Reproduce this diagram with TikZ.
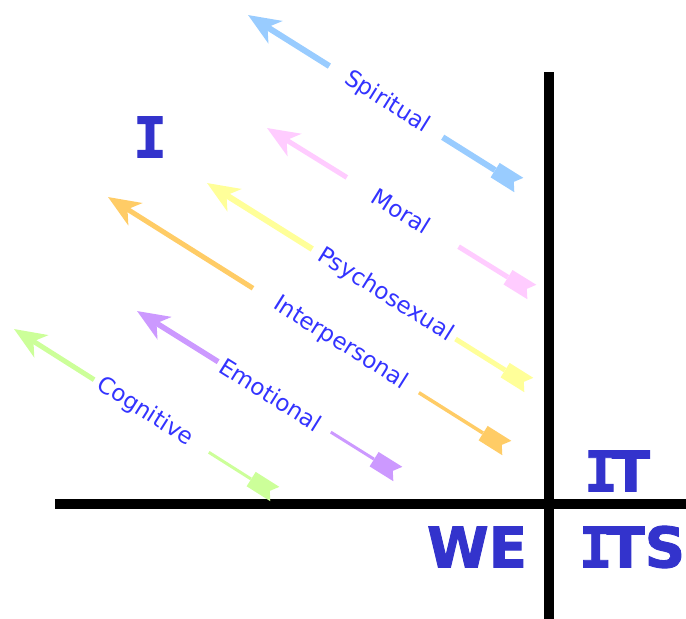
\documentclass[tikz,border=0pt]{standalone}
\usepackage{fontspec}
\setmainfont{DejaVu Sans}
\newfontfamily\quadfont{DejaVu Sans Bold}[FakeBold=1.6]
\newfontfamily\quadmono{DejaVu Sans Mono Bold}[FakeBold=1.6]
\usepackage{tikz}
\usetikzlibrary{arrows.meta,shapes.symbols}

\definecolor{spiritblue}{HTML}{99CCFF}
\definecolor{moralpink}{HTML}{FFCCFF}
\definecolor{psyyellow}{HTML}{FFFF99}
\definecolor{interorange}{HTML}{FFCC66}
\definecolor{emopurple}{HTML}{CC99FF}
\definecolor{cogngreen}{HTML}{CCFF99}
\definecolor{lineblue}{HTML}{3333FF}
\definecolor{quadblue}{HTML}{3333CC}

% serifed capital I, as in the quadrant names
\newcommand\serifI{{\quadmono I}}

\begin{document}
\begin{tikzpicture}[x=1pt, y=-1pt,
  lbl/.style={sloped, inner sep=0pt, text=lineblue, font=\fontsize{23}{27}\selectfont},
  quad/.style={inner sep=0pt, text=quadblue, font=\fontsize{56}{60}\quadfont},
  axis/.style={line width=10pt, black},
  tip/.style={-{Stealth[length=32pt, width=26pt, inset=9pt]}},
  fletch/.style={signal, signal to=nowhere, signal from=east, signal pointer angle=110,
    fill=#1, sloped, anchor=east, minimum width=28pt, minimum height=17pt, inner sep=0pt},
]
\useasboundingbox (0,0) rectangle (686,619);

% === Quadrant axes ===
\coordinate (vtop) at (549,72);
\coordinate (vbot) at (549,619);
\coordinate (hleft) at (55,504);
\coordinate (hright) at (686,504);
\draw[axis] (vtop) -- (vbot);
\draw[axis] (hleft) -- (hright);

% === Quadrant labels ===
\node[quad] (qI) at (150,137) {\serifI};
\node[quad] (qIT) at (617,471) {\serifI\kern-6pt T};
\node[quad] (qWE) at (477,547) {WE};
\node[quad] (qITS) at (632,547) {\serifI\kern-6pt TS};

% === Spiritual ===
\coordinate (hdS) at (248,15);
\coordinate (tlS) at (514,182);
\path (hdS) -- coordinate[pos=0.306] (aS) node[lbl, pos=0.522] (lS) {Spiritual}
  coordinate[pos=0.732] (bS) node[fletch=spiritblue, pos=1] (fS) {} (tlS);
\draw[tip, line width=6pt, spiritblue] (aS) -- (hdS);
\draw[line width=6pt, spiritblue] (bS) -- (fS);

% === Moral ===
\coordinate (hdM) at (267,128);
\coordinate (tlM) at (527,289);
\path (hdM) -- coordinate[pos=0.307] (aM) node[lbl, pos=0.517] (lM) {Moral}
  coordinate[pos=0.737] (bM) node[fletch=moralpink, pos=1] (fM) {} (tlM);
\draw[tip, line width=5pt, moralpink] (aM) -- (hdM);
\draw[line width=5pt, moralpink] (bM) -- (fM);

% === Psychosexual ===
\coordinate (hdP) at (207,183);
\coordinate (tlP) at (524,382);
\path (hdP) -- coordinate[pos=0.332] (aP) node[lbl, pos=0.563] (lP) {Psychosexual}
  coordinate[pos=0.784] (bP) node[fletch=psyyellow, pos=1] (fP) {} (tlP);
\draw[tip, line width=6pt, psyyellow] (aP) -- (hdP);
\draw[line width=5pt, psyyellow] (bP) -- (fP);

% === Interpersonal ===
\coordinate (hdN) at (108,197);
\coordinate (tlN) at (502,445);
\path (hdN) -- coordinate[pos=0.368] (aN) node[lbl, pos=0.590] (lN) {Interpersonal}
  coordinate[pos=0.789] (bN) node[fletch=interorange, pos=1] (fN) {} (tlN);
\draw[tip, line width=5pt, interorange] (aN) -- (hdN);
\draw[line width=3.5pt, interorange] (bN) -- (fN);

% === Emotional ===
\coordinate (hdE) at (137,311);
\coordinate (tlE) at (393,471);
\path (hdE) -- coordinate[pos=0.317] (aE) node[lbl, pos=0.522] (lE) {Emotional}
  coordinate[pos=0.757] (bE) node[fletch=emopurple, pos=1] (fE) {} (tlE);
\draw[tip, line width=5.5pt, emopurple] (aE) -- (hdE);
\draw[line width=3pt, emopurple] (bE) -- (fE);

% === Cognitive ===
\coordinate (hdC) at (14,329);
\coordinate (tlC) at (270,491);
\path (hdC) -- coordinate[pos=0.313] (aC) node[lbl, pos=0.512] (lC) {Cognitive}
  coordinate[pos=0.761] (bC) node[fletch=cogngreen, pos=1] (fC) {} (tlC);
\draw[tip, line width=5pt, cogngreen] (aC) -- (hdC);
\draw[line width=3pt, cogngreen] (bC) -- (fC);

\end{tikzpicture}
\end{document}
